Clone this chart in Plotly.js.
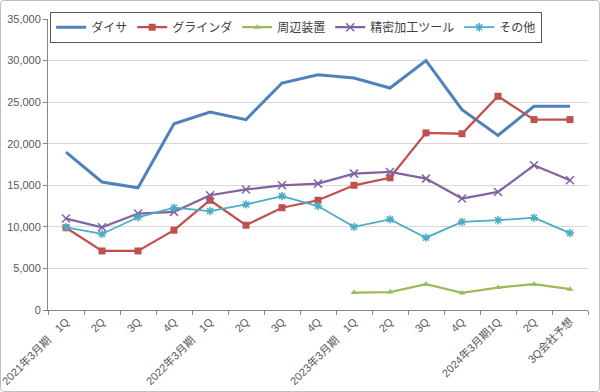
<!DOCTYPE html>
<html><head><meta charset="utf-8">
<script src="https://cdn.plot.ly/plotly-3.0.1.min.js"></script>
<style>
html,body{margin:0;padding:0;background:#fff;}
#wrap{position:relative;width:600px;height:392px;}
#chart{width:600px;height:392px;}
#frame{position:absolute;left:0;top:0;width:598px;height:390px;border:1px solid #bfbfbf;border-radius:4px;pointer-events:none;}
</style></head>
<body>
<div id="wrap"><div id="chart"></div><div id="frame"></div></div>
<script>
const categories = ["2021年3月期　1Q","2Q","3Q","4Q","2022年3月期　1Q","2Q","3Q","4Q","2023年3月期　1Q","2Q","3Q","4Q","2024年3月期1Q","2Q","3Q会社予想"];
const dicer    = [19000,15400,14700,22400,23800,22900,27300,28300,27900,26700,30000,24100,21000,24500,24500];
const grinder  = [9900,7100,7100,9600,13200,10200,12300,13200,15000,15900,21300,21200,25700,22900,22900];
const periph   = [null,null,null,null,null,null,null,null,2100,2150,3100,2050,2700,3100,2500];
const precision= [11000,9950,11600,11800,13800,14500,15000,15200,16400,16600,15800,13400,14200,17400,15600];
const others   = [9950,9150,11150,12300,11900,12700,13700,12500,10000,10900,8700,10600,10800,11100,9250];
const names = ["ダイサ","グラインダ","周辺装置","精密加工ツール","その他"];

const xpos = categories.map((_, i) => i);
const font = "Liberation Sans, Noto Sans CJK JP, sans-serif";
const traces = [
  {y:dicer, name:names[0], color:"#4F81BD", width:3, marker:{size:1, opacity:0}, mode:"lines"},
  {y:grinder, name:names[1], color:"#C0504D", width:2.25, marker:{symbol:"square", size:7}, mode:"lines+markers"},
  {y:periph, name:names[2], color:"#9BBB59", width:2.25, marker:{symbol:"triangle-up", size:6}, mode:"lines+markers"},
  {y:precision, name:names[3], color:"#8064A2", width:2.25, marker:{symbol:"x-thin-open", size:8, line:{width:1.5, color:"#8064A2"}}, mode:"lines+markers"},
  {y:others, name:names[4], color:"#4BACC6", width:1.75, marker:{symbol:"asterisk-open", size:7, line:{width:1.5, color:"#4BACC6"}}, mode:"lines+markers"}
].map(t => ({
  type:"scatter", x:xpos, y:t.y, name:t.name, mode:t.mode,
  line:{color:t.color, width:t.width},
  marker:Object.assign({color:t.color}, t.marker),
  connectgaps:false
}));

const layout = {
  width:600, height:392,
  margin:{l:48, r:12, t:15, b:82},
  paper_bgcolor:"#fff", plot_bgcolor:"#fff",
  font:{family:font, size:11, color:"#595959"},
  showlegend:true,
  legend:{orientation:"h", x:0.004, y:1.025, xanchor:"left", yanchor:"top",
    bgcolor:"#fff", bordercolor:"#595959", borderwidth:1,
    font:{family:font, size:12, color:"#404040"}, itemwidth:30, tracegroupgap:0},
  xaxis:{range:[-0.5,14.5], tickmode:"array", tickvals:xpos, ticktext:categories, tickangle:-45,
    ticklabeloverflow:"allow",
    showgrid:false, showline:true, linecolor:"#868686", linewidth:1, zeroline:false,
    ticks:"", ticklen:0,
    minor:{tick0:-0.5, dtick:1, ticks:"outside", ticklen:4, tickcolor:"#868686", showgrid:false},
    tickfont:{family:font, size:11, color:"#595959"}},
  yaxis:{range:[0,35000], dtick:5000, tickformat:",d",
    showgrid:true, gridcolor:"#d9d9d9", gridwidth:1,
    showline:true, linecolor:"#868686", linewidth:1,
    ticks:"outside", ticklen:4, tickcolor:"#868686",
    zeroline:false,
    tickfont:{family:font, size:11, color:"#595959"}}
};
Plotly.newPlot("chart", traces, layout, {displayModeBar:false, staticPlot:true});
</script>
</body></html>
